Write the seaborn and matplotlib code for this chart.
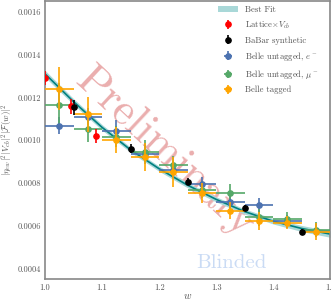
import numpy as np
import pandas as pd
import matplotlib
matplotlib.use('Agg')
import matplotlib.pyplot as plt
import seaborn as sns
from matplotlib.ticker import FormatStrFormatter

# fit curve
w_fit = [1.0, 1.05, 1.1, 1.15, 1.2, 1.25, 1.3, 1.35, 1.4, 1.45, 1.5]
f_fit = [0.001310, 0.001180, 0.001060, 0.000955, 0.000867, 0.000790,
         0.000724, 0.000667, 0.000622, 0.000588, 0.000562]
f_band = [0.000016, 0.000014, 0.000013, 0.000012, 0.000012, 0.000012,
          0.000012, 0.000012, 0.000013, 0.000014, 0.000015]

# Lattice x Vcb
w_lat = [1.0, 1.045, 1.09]
f_lat = [0.001292, 0.001158, 0.001020]
e_lat = [0.000033, 0.000035, 0.000033]

# BaBar synthetic
w_bab = [1.05, 1.15, 1.25, 1.35, 1.45]
f_bab = [0.001153, 0.000960, 0.000806, 0.000684, 0.000572]
e_bab = [0.000035, 0.000020, 0.000016, 0.000015, 0.000015]

# Belle bins
w_belle = [1.025, 1.075, 1.125, 1.175, 1.225, 1.275, 1.325, 1.375, 1.425, 1.475]
w_half = [0.025] * 10
f_e = [0.001067, 0.001110, 0.001042, 0.000936, 0.000862, 0.000794,
       0.000712, 0.000696, 0.000622, 0.000578]
e_e = [0.00004, 0.00004, 0.00005, 0.00004, 0.00004, 0.000035,
       0.000032, 0.000035, 0.00003, 0.00003]
f_mu = [0.001165, 0.001053, 0.001016, 0.000946, 0.000885, 0.000768,
        0.000754, 0.000640, 0.000633, 0.000581]
e_mu = [0.0001, 0.00006, 0.00005, 0.000055, 0.00004, 0.00004,
        0.00004, 0.00004, 0.00003, 0.000035]
f_tag = [0.001240, 0.001120, 0.001002, 0.000922, 0.000850, 0.000754,
         0.000670, 0.000623, 0.000614, 0.000572]
e_tag = [0.00010, 0.00008, 0.00006, 0.000065, 0.00007, 0.000047,
         0.00004, 0.00004, 0.00003, 0.00004]

sns.set_style('white')
plt.rcParams['font.family'] = 'serif'
plt.rcParams['font.serif'] = ['cmr10']
plt.rcParams['mathtext.fontset'] = 'cm'
plt.rcParams['axes.unicode_minus'] = False
plt.rcParams['axes.formatter.use_mathtext'] = True

grey = '#555555'
fig = plt.figure(figsize=(3.32, 3.03), dpi=100)
ax = fig.add_axes([0.1355, 0.079, 0.859, 0.918])

fit = pd.DataFrame({'w': w_fit, 'f': f_fit})
lo = np.array(f_fit) - np.array(f_band)
hi = np.array(f_fit) + np.array(f_band)
band = ax.fill_between(w_fit, lo, hi, color='#a9d8d8', lw=0, label='Best Fit', zorder=1)
sns.lineplot(data=fit, x='w', y='f', ax=ax, color='#008080', lw=1.2, zorder=2)

kw = dict(fmt='o', ms=3.8, elinewidth=1.2, capsize=0)
h1 = ax.errorbar(w_lat, f_lat, yerr=e_lat, color='red', label=r'Lattice$\times V_{cb}$', zorder=5, **kw)
h2 = ax.errorbar(w_bab, f_bab, yerr=e_bab, color='black', label='BaBar synthetic', zorder=5, **kw)
h3 = ax.errorbar(w_belle, f_e, xerr=w_half, yerr=e_e, color='#4c72b0', label=r'Belle untagged, $e^-$', zorder=3, **kw)
h4 = ax.errorbar(w_belle, f_mu, xerr=w_half, yerr=e_mu, color='#55a868', label=r'Belle untagged, $\mu^-$', zorder=3, **kw)
h5 = ax.errorbar(w_belle, f_tag, xerr=w_half, yerr=e_tag, color='orange', label='Belle tagged', zorder=4, **kw)

ax.set_xlim(1.0, 1.5)
ax.set_ylim(0.000352, 0.00165)
ax.set_xticks([1.0, 1.1, 1.2, 1.3, 1.4, 1.5])
ax.set_yticks([0.0004, 0.0006, 0.0008, 0.0010, 0.0012, 0.0014, 0.0016])
ax.xaxis.set_major_formatter(FormatStrFormatter('%.1f'))
ax.yaxis.set_major_formatter(FormatStrFormatter('%.4f'))
ax.tick_params(labelsize=6, colors=grey, length=0, pad=3)
for s in ax.spines.values():
    s.set_color('#888888')
    s.set_linewidth(1.2)

ax.set_xlabel(r'$w$', fontsize=7.5, color=grey)
ax.xaxis.set_label_coords(0.5, -0.043)
ax.set_ylabel(r'$|\eta_{ew}|^2|V_{cb}|^2|\mathcal{F}(w)|^2$', fontsize=6.5, color=grey)
ax.yaxis.set_label_coords(-0.108, 0.5)

leg = ax.legend(handles=[band, h1, h2, h3, h4, h5], loc='upper left', frameon=False,
                fontsize=6.2, handlelength=2.3, handletextpad=0.8, labelspacing=0.6,
                borderpad=0, borderaxespad=0, bbox_to_anchor=(0.607, 0.982))
for t in leg.get_texts():
    t.set_color(grey)

ax.text(0.42, 0.455, 'Preliminary', transform=ax.transAxes, fontsize=32, color='#cc3333',
        alpha=0.4, rotation=-43, ha='center', va='center', zorder=0)
ax.text(0.653, 0.056, 'Blinded', transform=ax.transAxes, fontsize=15, color='#a8c4ee',
        alpha=0.6, ha='center', va='center', zorder=0)

fig.savefig('out.png', dpi=100)
